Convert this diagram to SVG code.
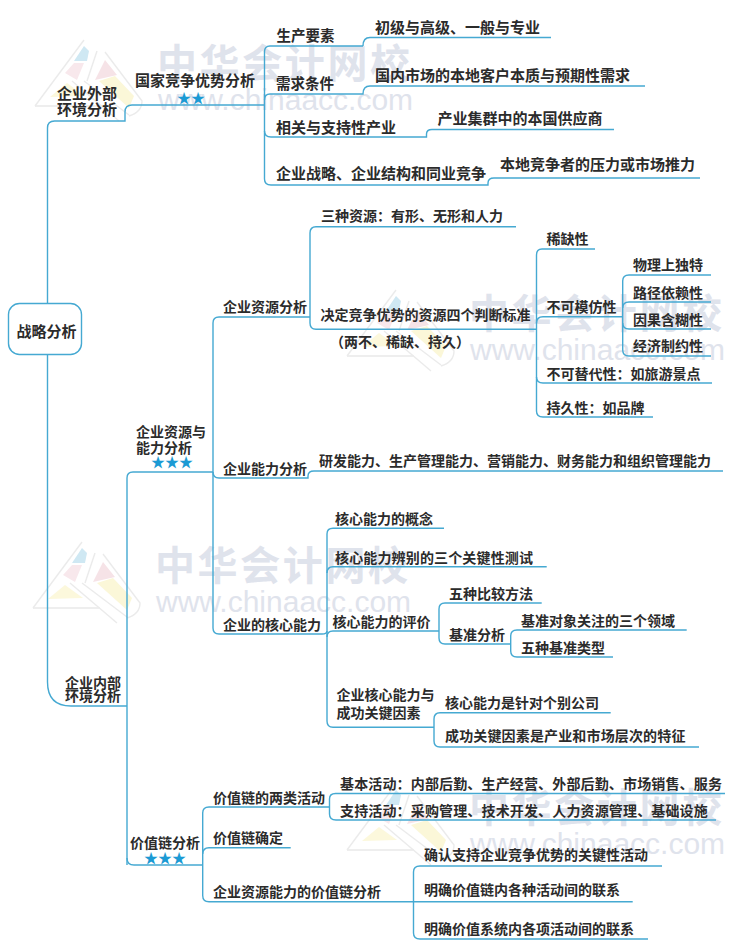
<svg xmlns="http://www.w3.org/2000/svg" width="750" height="948" viewBox="0 0 750 948">
<style>
text{font-family:"Noto Sans CJK SC","Noto Sans",sans-serif;font-size:14px;font-weight:700;fill:#2b2b2b}
.b{font-size:15px}
.m{font-size:14.5px}
.w{letter-spacing:.15px}
.star{fill:#1b9ad4;font-size:14px;font-weight:400}
.c{fill:none;stroke:#45a9d2;stroke-width:1.4}
.wc{font-size:40px;font-weight:700;letter-spacing:2.6px;fill:#dfe3ec}
.we{font-family:"Liberation Sans",Arial,sans-serif;font-size:30px;font-weight:400;fill:#dfe3ec}
</style>
<defs>
<g id="wm">
<path d="M33 108H100" stroke="#dedede" stroke-width="1.2" fill="none"/>
<path d="M82 48L87 53L85 63L72 63Z" fill="#cfe8f3"/>
<path d="M72 65L82 65L75 82L63 75Z" fill="#f8e8ec"/>
<path d="M65 85L83 98L48 99Z" fill="#fcf8dc"/>
<path d="M103 62L115 77L93 82Z" fill="#f6e3e7"/>
<path d="M113 78L132 98L127 110L97 83Z" fill="#fbf7d8"/>
<path d="M70 83L117 123M82 83L127 117M95 53L85 83M127 118Q140 114 140 103L103 54M33 108L82 42" fill="none" stroke="#ebebeb" stroke-width="1.4"/>
<text class="wc" x="155" y="80">中华会计网校</text>
<text class="we" x="156" y="112">www.chinaacc.com</text>
</g>
</defs>
<g id="watermarks">
<use href="#wm" x="2" y="-2"/>
<use href="#wm" x="314" y="248"/>
<use href="#wm" x="0" y="500"/>
<use href="#wm" x="314" y="742"/>
</g>
<g id="connectors" class="c">
<path class="c" d="M47.500 303V128Q47.500 121 54.500 121H125V112Q125 105 132 105H264.500"/>
<path class="c" d="M47.500 354V682Q47.500 706 71 706H127"/>
<path class="c" d="M363 46H270Q264.500 46 264.500 52V179Q264.500 185 271 185H488V183Q488 178 494 178H700"/>
<path class="c" d="M363 46Q363 37.500 370 37.500H551"/>
<path class="c" d="M264.500 100Q264.500 94 270 94H363Q363 86 370 86H645"/>
<path class="c" d="M264.500 131Q264.500 137 271 137H426.500V134Q426.500 129.500 432 129.500H614"/>
<path class="c" d="M127 865V478Q127 472 133 472H213"/>
<path class="c" d="M310 317H219Q213 317 213 323V628Q213 634 219 634H322Q327 634 327 631"/>
<path class="c" d="M213 472Q213 478 219 478H308V476Q308 471 314 471H723"/>
<path class="c" d="M516 226.700H316Q310 226.700 310 233V323Q310 329.300 316 329.300H536.500"/>
<path class="c" d="M595 249H542Q536.500 249 536.500 255V411Q536.500 417 543 417H653"/>
<path class="c" d="M536.500 323Q536.500 316.700 543 316.700H623"/>
<path class="c" d="M536.500 377Q536.500 383 543 383H712"/>
<path class="c" d="M711 275H629Q622.700 275 622.700 281V350Q622.700 356 629 356H711"/>
<path class="c" d="M622.700 308Q622.700 302 629 302H711"/>
<path class="c" d="M622.700 323Q622.700 329 629 329H711"/>
<path class="c" d="M444 528.300H333Q327 528.300 327 534V721Q327 727.300 333 727.300H434"/>
<path class="c" d="M327 573Q327 566.700 333 566.700H546.700"/>
<path class="c" d="M327 637Q327 631 333 631H439"/>
<path class="c" d="M541.700 603H445Q439 603 439 609V638Q439 644 445 644H510.700"/>
<path class="c" d="M686.700 630H517Q510.700 630 510.700 636V651Q510.700 657 517 657H613"/>
<path class="c" d="M610.700 712.700H440Q434 712.700 434 719V741Q434 747 440 747H699"/>
<path class="c" d="M127 858Q127 865 134 865H202.700"/>
<path class="c" d="M329.500 807H209Q202.700 807 202.700 813V895.500Q202.700 901.700 209 901.700H413.500"/>
<path class="c" d="M202.700 854Q202.700 847.700 209 847.700H290.700"/>
<path class="c" d="M725 793.500H335.500Q329.500 793.500 329.500 799V814Q329.500 820 336 820H716"/>
<path class="c" d="M662 866H420Q413.500 866 413.500 872V933Q413.500 939 420 939H648"/>
<path class="c" d="M413.500 901.700H632.700"/>
</g>
<g id="root"><rect class="c" x="8.500" y="303.500" width="73" height="51" rx="11" fill="#fff"/><text class="b" x="16.500" y="336.500">战略分析</text></g>
<g id="n-external"><text class="b" x="57" y="99">企业外部</text><text class="b" x="57" y="115">环境分析</text></g>
<g id="n-national"><text class="b" x="135" y="85.500">国家竞争优势分析</text><text class="star" x="177" y="103">★★</text></g>
<g id="n1"><text class="m" x="276.500" y="41">生产要素</text></g>
<g id="n2"><text class="m" x="276" y="89">需求条件</text></g>
<g id="n3"><text class="b" x="276" y="132.500">相关与支持性产业</text></g>
<g id="n4"><text class="b" x="276" y="179">企业战略、企业结构和同业竞争</text></g>
<g id="n5"><text class="b" x="375" y="32.500">初级与高级、一般与专业</text></g>
<g id="n6"><text class="b" x="375" y="81">国内市场的本地客户本质与预期性需求</text></g>
<g id="n7"><text class="b" x="437.500" y="123.500">产业集群中的本国供应商</text></g>
<g id="n8"><text class="b" x="500" y="170">本地竞争者的压力或市场推力</text></g>
<g id="n-internal"><text x="65" y="687.500">企业内部</text><text x="65" y="701">环境分析</text></g>
<g id="n-resability"><text x="136" y="436.500">企业资源与</text><text x="136" y="452.500">能力分析</text><text class="star" x="151" y="467">★★★</text></g>
<g id="n-resource"><text x="223" y="311.500">企业资源分析</text></g>
<g id="n-ability"><text x="223" y="473.500">企业能力分析</text></g>
<g id="n-core"><text x="223" y="630">企业的核心能力</text></g>
<g id="n9"><text x="321" y="221">三种资源：有形、无形和人力</text></g>
<g id="n10"><text x="320.500" y="320">决定竞争优势的资源四个判断标准</text><text x="330" y="346.500">（两不、稀缺、持久）</text></g>
<g id="n11"><text x="546.500" y="243.500">稀缺性</text></g>
<g id="n12"><text x="546.500" y="311.500">不可模仿性</text></g>
<g id="n13"><text x="633" y="270">物理上独特</text></g>
<g id="n14"><text x="633" y="297.500">路径依赖性</text></g>
<g id="n15"><text x="633" y="324.500">因果含糊性</text></g>
<g id="n16"><text x="633" y="351">经济制约性</text></g>
<g id="n17"><text x="546.500" y="378.500">不可替代性：如旅游景点</text></g>
<g id="n18"><text x="546.500" y="412.500">持久性：如品牌</text></g>
<g id="n19"><text x="319" y="465.500">研发能力、生产管理能力、营销能力、财务能力和组织管理能力</text></g>
<g id="n20"><text x="335" y="523.500">核心能力的概念</text></g>
<g id="n21"><text class="w" x="335" y="562.500">核心能力辨别的三个关键性测试</text></g>
<g id="n22"><text x="332.500" y="626.500">核心能力的评价</text></g>
<g id="n23"><text x="449" y="598.500">五种比较方法</text></g>
<g id="n24"><text x="449" y="639.500">基准分析</text></g>
<g id="n25"><text x="521" y="626">基准对象关注的三个领域</text></g>
<g id="n26"><text x="521" y="652.500">五种基准类型</text></g>
<g id="n27"><text x="336.500" y="699.500">企业核心能力与</text><text x="336.500" y="718">成功关键因素</text></g>
<g id="n28"><text x="445" y="708">核心能力是针对个别公司</text></g>
<g id="n29"><text class="w" x="445" y="740.500">成功关键因素是产业和市场层次的特征</text></g>
<g id="n-chain"><text x="130" y="847.500">价值链分析</text><text class="star" x="144" y="863">★★★</text></g>
<g id="n30"><text x="213" y="802.500">价值链的两类活动</text></g>
<g id="n31"><text x="213" y="842.500">价值链确定</text></g>
<g id="n32"><text x="213" y="897">企业资源能力的价值链分析</text></g>
<g id="n33"><text class="w" x="340" y="788.500">基本活动：内部后勤、生产经营、外部后勤、市场销售、服务</text></g>
<g id="n34"><text class="w" x="340" y="816">支持活动：采购管理、技术开发、人力资源管理、基础设施</text></g>
<g id="n35"><text x="424" y="860">确认支持企业竞争优势的关键性活动</text></g>
<g id="n36"><text x="424" y="895">明确价值链内各种活动间的联系</text></g>
<g id="n37"><text x="424" y="933.500">明确价值系统内各项活动间的联系</text></g>
</svg>
